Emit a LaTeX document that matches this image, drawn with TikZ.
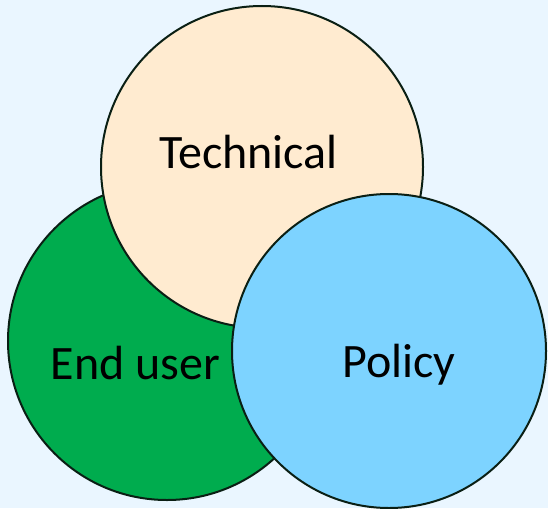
\documentclass[tikz,border=0pt]{standalone}
\usepackage{fontspec}
\setmainfont{Carlito}
\definecolor{bgc}{HTML}{EAF6FF}
\definecolor{greenc}{HTML}{00AC4E}
\definecolor{techc}{HTML}{FFEBD0}
\definecolor{polc}{HTML}{7DD3FF}
\definecolor{linec}{HTML}{0A1F14}
\begin{document}
\begin{tikzpicture}[x=1pt,y=-1pt,
  venn/.style={draw=linec,line width=2pt},
  lbl/.style={anchor=base,inner sep=0pt,font=\fontsize{48}{56}\selectfont,text=black}]
\fill[bgc] (0,0) rectangle (548,508);
\useasboundingbox (0,0) rectangle (548,508);
\path[venn,fill=greenc] (167,341) circle[radius=159];
\path[venn,fill=techc] (262,167) circle[radius=161];
\path[venn,fill=polc] (389,351) circle[radius=157];
\node[lbl] (tech) at (248.5,168) {Technical};
\node[lbl] (end) at (135.5,379) {End user};
\node[lbl] (pol) at (399,377) {Policy};
\end{tikzpicture}
\end{document}
